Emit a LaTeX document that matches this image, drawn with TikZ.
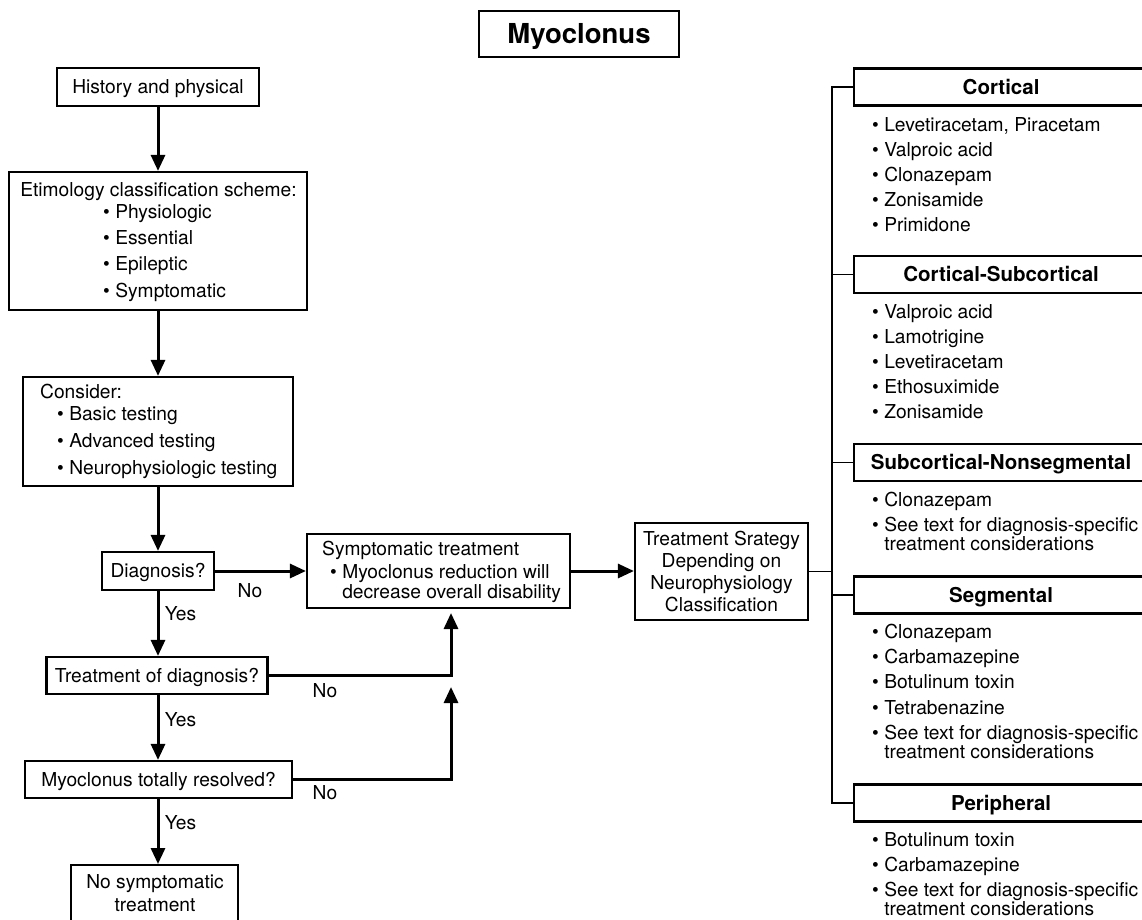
\documentclass[tikz,border=0pt]{standalone}
\usepackage{fontspec}
\setmainfont{TeX Gyre Heros}
\usetikzlibrary{arrows.meta}
\newcommand\myNF{\fontsize{19.2}{22}\selectfont}
\newcommand\myHF{\fontsize{20.5}{24}\selectfont\bfseries}
\newcommand\myTF{\fontsize{27.5}{30}\selectfont\bfseries}
\newcommand\mybul{\textbullet\ }
\newcommand\mynobul{\phantom{\textbullet}\ }
\tikzset{
  box/.style={draw, line width=2.2pt, inner sep=0pt, font=\myNF, text height=13.8pt, text depth=0pt},
  hbox/.style={draw, line width=2.2pt, minimum width=294pt, minimum height=37pt, font=\myHF, text height=14.8pt, text depth=0pt, inner sep=0pt, anchor=west},
  txt/.style={anchor=base west, inner sep=0pt, font=\myNF},
  ctxt/.style={anchor=base, inner sep=0pt, font=\myNF},
  arr/.style={line width=3pt, -{Triangle[width=14pt,length=16pt]}},
  thinln/.style={line width=1.8pt}
}
\begin{document}
\begin{tikzpicture}[x=1pt,y=-1pt]
\useasboundingbox (0,0) rectangle (1142,919);
\clip (0,0) rectangle (1142,919);

% title
\node[box, minimum width=200pt, minimum height=46pt, font=\myTF, text height=19.8pt] (title) at (579,34) {Myoclonus};

% left column boxes
\node[box, minimum width=202pt, minimum height=38pt] (hist) at (158,87) {History and physical};
\node[box, minimum width=298pt, minimum height=138pt] (etio) at (158,241) {};
\node[box, minimum width=270pt, minimum height=109pt] (cons) at (158,431.5) {};
\node[box, minimum width=112pt, minimum height=38pt] (diag) at (158,571) {Diagnosis?};
\node[box, minimum width=221pt, minimum height=37pt] (tdiag) at (157,675.5) {Treatment of diagnosis?};
\node[box, minimum width=267pt, minimum height=37pt] (myores) at (158.5,779.5) {Myoclonus totally resolved?};
\node[box, minimum width=167pt, minimum height=80pt, anchor=north] (nosym) at (154.5,864) {};
\node[box, minimum width=263pt, minimum height=74pt] (symp) at (438.5,571) {};
\node[box, minimum width=173pt, minimum height=97pt] (strat) at (721.5,571.5) {};

% texts inside boxes
\node[ctxt] (etioT) at (158.5,196) {Etimology classification scheme:};
\foreach \yy/\itm in {218.5/Physiologic, 244.5/Essential, 270.5/Epileptic, 297/Symptomatic}
  \node[txt] (e\yy) at (103,\yy) {\mybul\itm};
\node[txt] (consT) at (40,398.5) {Consider:};
\foreach \yy/\itm in {420.5/Basic testing, 447.5/Advanced testing, 474.5/Neurophysiologic testing}
  \node[txt] (k\yy) at (57,\yy) {\mybul\itm};
\node[txt] (sympA) at (322,555.5) {Symptomatic treatment};
\node[txt] (sympB) at (330,578) {\mybul Myoclonus reduction will};
\node[txt] (sympC) at (330,598.5) {\mynobul decrease overall disability};
\node[ctxt] (stratA) at (721.5,545.5) {Treatment Srategy};
\node[ctxt] (stratB) at (721.5,567.5) {Depending on};
\node[ctxt] (stratC) at (721.5,589.5) {Neurophysiology};
\node[ctxt] (stratD) at (721.5,611.5) {Classification};
\node[ctxt] (nosymA) at (155,888) {No symptomatic};
\node[ctxt] (nosymB) at (155,911) {treatment};

% arrows
\draw[arr] (hist.south) -- (etio.north);
\draw[arr] (etio.south) -- (cons.north);
\draw[arr] (cons.south) -- (diag.north);
\draw[arr] (diag.south) -- (diag.south |- tdiag.north);
\draw[arr] (tdiag.south -| diag.south) -- (diag.south |- myores.north);
\draw[arr] (myores.south -| diag.south) -- (diag.south |- nosym.north);
\draw[arr] (diag.east) -- (symp.west |- diag.east);
\draw[arr] (symp.east) -- (strat.west |- symp.east);
\coordinate (fb1) at (451,613);
\coordinate (fb2) at (451,687);
\draw[arr] (tdiag.east) -| (fb1);
\draw[arr] (myores.east) -| (fb2);

% yes / no labels
\node[ctxt] (no1) at (250,597.5) {No};
\node[ctxt] (no2) at (325,697.5) {No};
\node[ctxt] (no3) at (325,799.5) {No};
\node[ctxt] (yes1) at (180.5,620.5) {Yes};
\node[ctxt] (yes2) at (180.5,726.5) {Yes};
\node[ctxt] (yes3) at (180.5,829.5) {Yes};

% right side category boxes
\node[hbox] (cort) at (853,87) {Cortical};
\node[hbox] (csub) at (853,274.5) {Cortical-Subcortical};
\node[hbox] (snon) at (853,462.5) {Subcortical-Nonsegmental};
\node[hbox] (seg) at (853,595) {Segmental};
\node[hbox] (peri) at (853,803) {Peripheral};
\coordinate (vt) at (832,0);
\draw[thinln] (cort.west) -- (cort.west -| vt) -- (peri.west -| vt) -- (peri.west);
\draw[thinln] (csub.west) -- (csub.west -| vt);
\draw[thinln] (snon.west) -- (snon.west -| vt);
\draw[thinln] (seg.west) -- (seg.west -| vt);
\draw[thinln] (strat.east) -- (strat.east -| vt);

% items
\foreach \yy/\itm in {125/{Levetiracetam, Piracetam}, 150/Valproic acid, 175/Clonazepam, 200/Zonisamide, 225/Primidone,
  312/Valproic acid, 337/Lamotrigine, 362/Levetiracetam, 387/Ethosuximide, 412/Zonisamide,
  500/Clonazepam, 525/See text for diagnosis-specific,
  632/Clonazepam, 657/Carbamazepine, 682/Botulinum toxin, 708/Tetrabenazine, 733/See text for diagnosis-specific,
  840/Botulinum toxin, 865/Carbamazepine, 890/See text for diagnosis-specific}
  \node[txt] (r\yy) at (872,\yy+6.5) {\mybul\itm};
\foreach \yy in {544, 752, 909}
  \node[txt] (t\yy) at (872,\yy+6.5) {\mynobul treatment considerations};
\end{tikzpicture}
\end{document}
